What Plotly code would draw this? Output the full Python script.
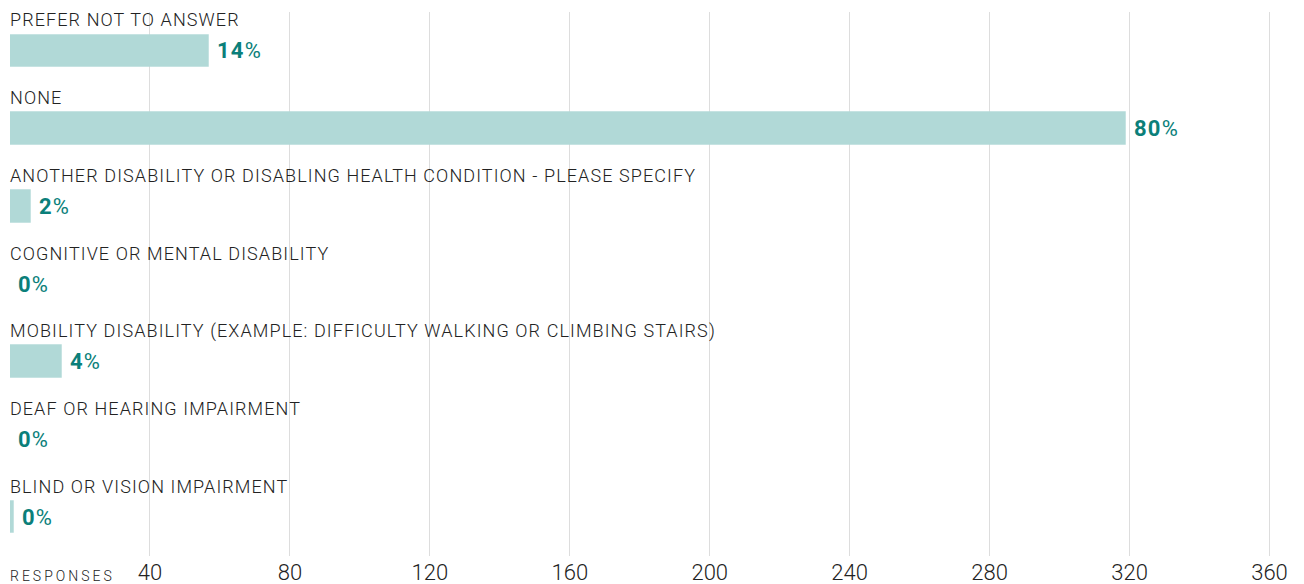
import plotly.graph_objects as go

categories = [
    'PREFER NOT TO ANSWER',
    'NONE',
    'ANOTHER DISABILITY OR DISABLING HEALTH CONDITION - PLEASE SPECIFY',
    'COGNITIVE OR MENTAL DISABILITY',
    'MOBILITY DISABILITY (EXAMPLE: DIFFICULTY WALKING OR CLIMBING STAIRS)',
    'DEAF OR HEARING IMPAIRMENT',
    'BLIND OR VISION IMPAIRMENT',
]
responses = [57, 319, 6, 0, 15, 0, 1]
tick_values = [40, 80, 120, 160, 200, 240, 280, 320, 360]

BAR_COLOR = '#b1d9d7'
LABEL_COLOR = '#0b7f7a'
TEXT_COLOR = '#222222'

total = sum(responses)
percent_labels = ['<b>%d</b>%%' % round(100 * v / total) for v in responses]

fig = go.Figure()
fig.add_trace(go.Bar(
    x=responses,
    y=categories,
    orientation='h',
    width=0.42,
    marker={'color': BAR_COLOR, 'line': {'width': 1, 'color': 'rgba(177,217,215,0.45)'}},
    hoverinfo='x+y',
))

annotations = []
for cat, val, pct in zip(categories, responses, percent_labels):
    # category name sits above its bar
    annotations.append(dict(
        x=0, y=cat, xref='x', yref='y', xanchor='left', yanchor='middle',
        xshift=-2, yshift=31, text=cat, showarrow=False,
        font={'family': 'Roboto', 'size': 18, 'weight': 300, 'color': TEXT_COLOR},
    ))
    # percentage just right of the bar end
    annotations.append(dict(
        x=val, y=cat, xref='x', yref='y', xanchor='left', yanchor='middle',
        xshift=6, text=pct, showarrow=False,
        font={'family': 'Roboto', 'size': 22, 'color': LABEL_COLOR},
    ))

annotations.append(dict(
    x=0, y=0, xref='paper', yref='paper', xanchor='left', yanchor='top',
    xshift=-2, yshift=-10, text='RESPONSES', showarrow=False,
    font={'family': 'Roboto', 'size': 14, 'weight': 300, 'color': TEXT_COLOR},
))

fig.update_layout(
    width=1304, height=584,
    margin={'l': 10, 'r': 10, 't': 12, 'b': 28},
    plot_bgcolor='white', paper_bgcolor='white',
    showlegend=False,
    bargap=0,
    annotations=annotations,
    xaxis={
        'range': [0, 367],
        'tickvals': tick_values,
        'automargin': False,
        'showgrid': True,
        'gridcolor': '#dddddd',
        'gridwidth': 1,
        'zeroline': False,
        'showline': False,
        'ticks': '',
        'ticklabelstandoff': 1,
        'tickfont': {'family': 'Roboto', 'size': 22, 'weight': 300, 'color': TEXT_COLOR},
    },
    yaxis={
        'categoryorder': 'array',
        'categoryarray': categories,
        'range': [6.5, -0.5],
        'automargin': False,
        'showticklabels': False,
        'showgrid': False,
        'zeroline': False,
        'showline': False,
        'ticks': '',
    },
)

# page margin off, and the spaced-out lettering of the labels
# (text is centre-anchored, so shift it to keep the left edge in place)
post = """
document.body.style.margin = '0';
document.querySelectorAll('.annotation-text').forEach(function (el) {
    var t = el.textContent;
    var w0 = el.getBBox().width;
    if (t === 'RESPONSES') { el.style.letterSpacing = '3px'; }
    else if (t.indexOf('%') >= 0) { el.style.letterSpacing = '1.2px'; }
    else { el.style.letterSpacing = '1.1px'; }
    var w1 = el.getBBox().width;
    var x = parseFloat(el.getAttribute('x')) || 0;
    el.setAttribute('x', x + (w1 - w0) / 2);
});
"""

fig.write_html('out.html', post_script=post, config={'displayModeBar': False})
